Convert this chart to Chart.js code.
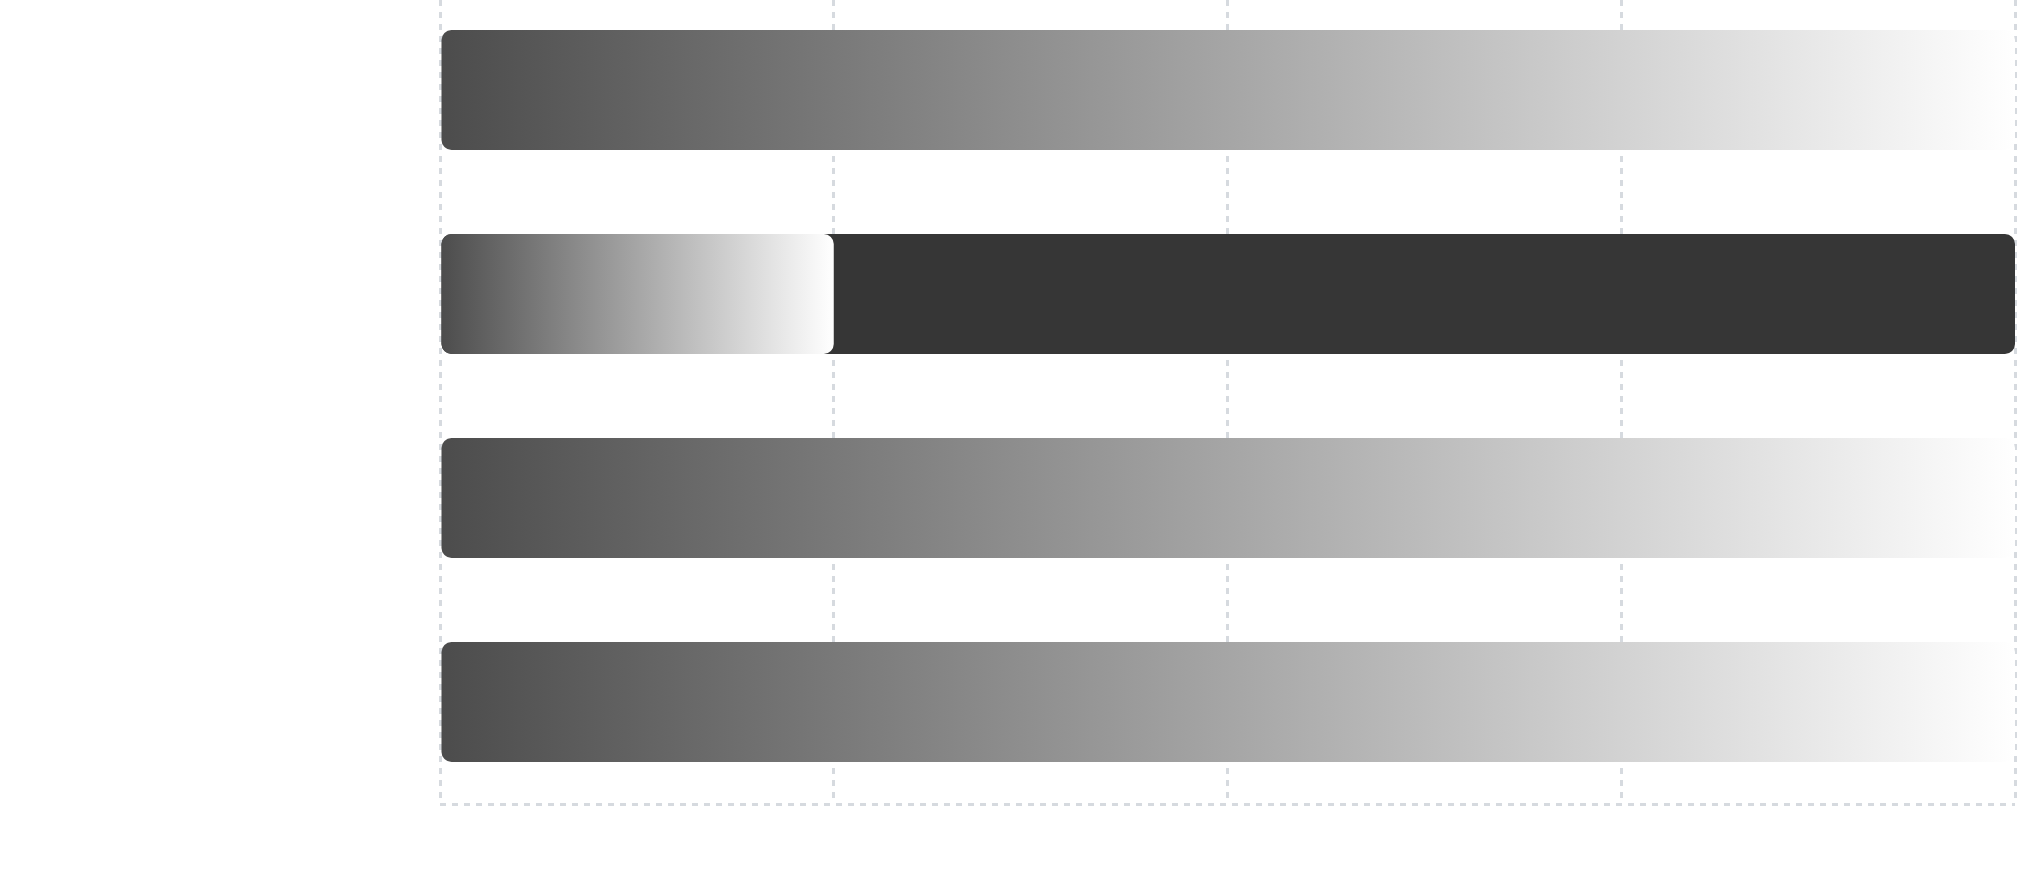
<!DOCTYPE html>
<html>
<head>
<meta charset="utf-8">
<script src="https://cdn.jsdelivr.net/npm/chart.js@4.4.1/dist/chart.umd.min.js"></script>
<style>
    html, body { margin: 0; padding: 0; background: #ffffff; overflow: hidden; }
    #wrap { position: absolute; left: 0; top: -12px; width: 2037px; height: 882px; }
</style>
</head>
<body>
<div id="wrap"><canvas id="chart"></canvas></div>
<script>
// Data
const categories = ['A', 'B', 'C', 'D'];
const progressValues = [100, 25, 100, 100];
const trackValues = [null, 100, null, null];
const axisMax = 100;
const axisStep = 25;

const gridColor = 'rgba(181, 189, 198, 0.56)';

// gradient from the bar's base to its end, per bar
function barGradient(context) {
    const chart = context.chart;
    const { chartArea, scales } = chart;
    if (!chartArea) return '#4c4c4c';
    const value = context.dataset.data[context.dataIndex];
    if (value == null) return 'transparent';
    const x0 = scales.x.getPixelForValue(0);
    const x1 = scales.x.getPixelForValue(value);
    const g = chart.ctx.createLinearGradient(x0, 0, x1, 0);
    g.addColorStop(0, '#4c4c4c');
    g.addColorStop(1, '#ffffff');
    return g;
}

document.addEventListener('DOMContentLoaded', () => {
    const canvas = document.getElementById('chart');

    new Chart(canvas, {
        type: 'bar',
        data: {
            labels: categories,
            datasets: [
                {
                    label: 'progress',
                    data: progressValues,
                    backgroundColor: barGradient,
                    borderRadius: 10,
                    borderSkipped: false,
                    grouped: false,
                    barPercentage: 0.588,
                    categoryPercentage: 1,
                },
                {
                    label: 'track',
                    data: trackValues,
                    backgroundColor: '#363636',
                    borderRadius: 10,
                    borderSkipped: false,
                    grouped: false,
                    barPercentage: 0.588,
                    categoryPercentage: 1,
                },
            ],
        },
        options: {
            indexAxis: 'y',
            responsive: true,
            maintainAspectRatio: false,
            animation: false,
            layout: {
                padding: { left: 440, right: 22, top: 0, bottom: 66 },
            },
            plugins: {
                legend: { display: false },
                tooltip: { enabled: false },
            },
            scales: {
                x: {
                    min: 0,
                    max: axisMax,
                    z: 1,
                    ticks: { display: false, stepSize: axisStep },
                    grid: { color: gridColor, lineWidth: 3, drawTicks: false },
                    border: { display: false, dash: [6, 6] },
                },
                y: {
                    ticks: { display: false },
                    // only the bottom line of the category grid is shown
                    grid: {
                        color: (c) => c.type === 'scale' ? gridColor : 'transparent',
                        lineWidth: 3,
                        drawTicks: false,
                    },
                    border: { display: false, dash: [6, 6] },
                },
            },
        },
    });
});
</script>
</body>
</html>
